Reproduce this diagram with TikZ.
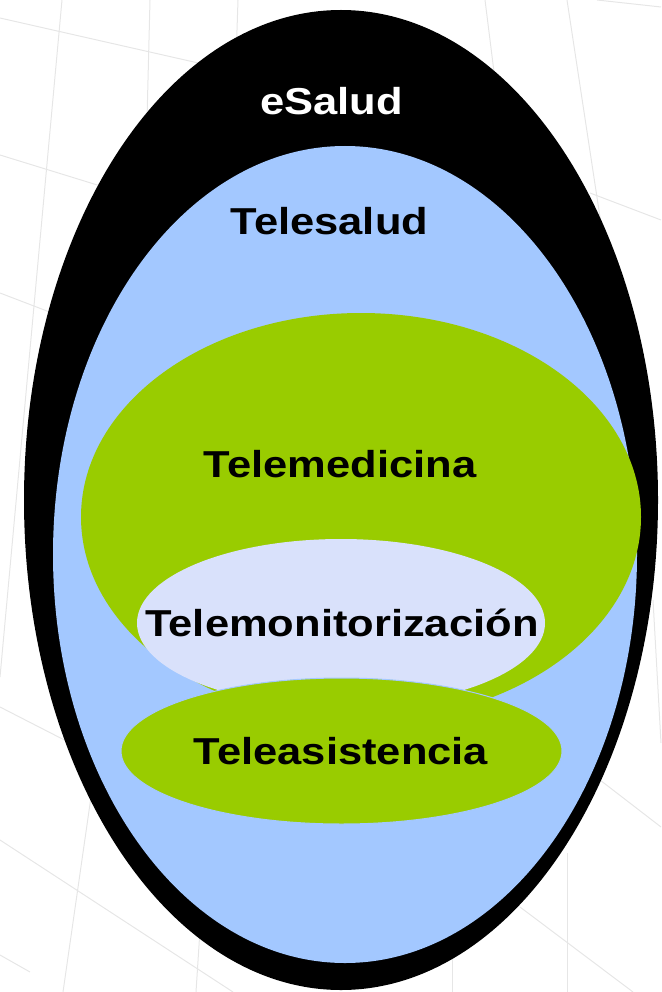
\documentclass[tikz,border=0pt]{standalone}
\usepackage{fontspec}
\newfontfamily\labelfont[FakeStretch=1.16]{Liberation Sans}
\usetikzlibrary{shapes.geometric}

\definecolor{saludblue}{RGB}{163,200,255}
\definecolor{medgreen}{RGB}{153,204,0}
\definecolor{monlilac}{RGB}{217,225,251}
\definecolor{gridgray}{RGB}{230,230,230}

\begin{document}
\begin{tikzpicture}[x=1pt, y=-1pt]

    \tikzset{blob/.style={%
      ellipse,%
      draw=none,%
      inner sep=0pt}%
    };

    \tikzset{label/.style={font=\labelfont\bfseries\fontsize{37.5}{40}\selectfont,
      anchor=base, inner sep=0pt}};

    \tikzset{gridline/.style={draw=gridgray, line width=1pt}};

    \useasboundingbox (0,0) rectangle (661,992);

    %%%%%%%%%%%%%%%
    %  backdrop   %
    %%%%%%%%%%%%%%%
    \foreach \xa/\ya/\xb/\yb in {62/0/0/677, 150/0/140/400, 238/0/236/60,
        0/18/260/77, 0/155/120/192, 0/293/60/316, 485/0/500/120,
        567/0/605/250, 590/193/661/220, 597/0/661/7, 0/707/80/748,
        0/840/233/992, 92/790/63/992, 0/955/30/972, 200/930/196/992,
        600/780/661/827, 653/600/661/743, 567/853/567/992,
        520/907/633/992, 452/940/452/992}
      \draw[gridline] (\xa,\ya) -- (\xb,\yb);

    %%%%%%%%%%%%%%%
    %  ellipses   %
    %%%%%%%%%%%%%%%
    \node[blob, fill=black, minimum width=634pt, minimum height=980pt] (esalud) at (341,500) {};
    \node[blob, fill=saludblue, minimum width=584pt, minimum height=817pt] (telesalud) at (345,554.5) {};
    \node[blob, fill=medgreen, minimum width=560pt, minimum height=408pt] (telemed) at (361,517) {};
    \node[blob, fill=monlilac, minimum width=408pt, minimum height=168pt] (telemon) at (341,623) {};
    \node[blob, fill=medgreen, draw=saludblue, line width=1pt,
      minimum width=441pt, minimum height=146pt] (teleasis) at (341.5,751) {};

    %%%%%%%%%%%%%%%
    %  labels     %
    %%%%%%%%%%%%%%%
    \node[label, text=white] (esaludtxt) at (331.5,115) {eSalud};
    \node[label] (telesaludtxt) at (329.5,235) {Telesalud};
    \node[label] (telemedtxt) at (340,477) {Telemedicina};
    \node[label] (telemontxt) at (342,636) {Telemonitorización};
    \node[label] (teleasistxt) at (341,764) {Teleasistencia};

  \end{tikzpicture}
\end{document}
